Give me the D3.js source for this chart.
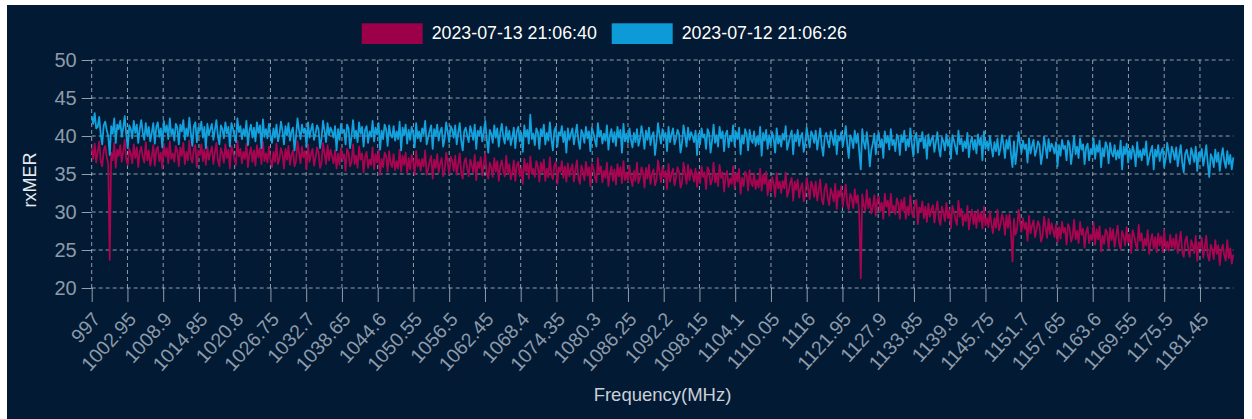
<!DOCTYPE html>
<html>
<head>
<meta charset="utf-8">
<script src="https://cdn.jsdelivr.net/npm/d3@7"></script>
<style>
  html, body { margin: 0; padding: 0; background: #ffffff; }
  svg { display: block; font-family: Arial, "Liberation Sans", sans-serif; }
</style>
</head>
<body>
<svg id="chart" width="1252" height="419"></svg>
<script>
// Subcarrier frequencies: first value and spacing (MHz)
const freqStart = 997;
const freqStep = 0.25;

// rxMER (dB) per subcarrier, capture of 2023-07-13 21:06:40
const rxmer0713 = [
  38.4, 37.0, 39.0, 36.5, 37.9, 39.3, 36.7, 36.0, 38.1, 38.7,
  37.3, 36.3, 23.7, 37.8, 36.8, 39.1, 35.8, 38.2, 37.4, 38.8,
  36.6, 38.0, 39.5, 36.9, 36.2, 38.3, 37.7, 36.4, 38.9, 37.1,
  38.5, 35.9, 37.9, 38.6, 37.2, 36.5, 39.2, 36.8, 38.1, 36.1,
  37.2, 38.8, 36.1, 38.2, 38.6, 36.7, 37.8, 35.7, 39.0, 37.3,
  38.4, 36.4, 39.3, 37.0, 37.7, 36.6, 38.7, 38.0, 36.0, 38.5,
  37.4, 39.1, 36.3, 37.9, 36.8, 39.4, 37.1, 36.5, 38.3, 38.8,
  35.9, 38.1, 37.5, 38.9, 36.7, 38.2, 36.2, 38.6, 36.9, 37.8,
  38.6, 36.3, 37.8, 39.1, 36.8, 36.0, 38.4, 37.7, 36.5, 38.9,
  37.1, 38.2, 35.7, 38.7, 38.0, 36.9, 36.2, 39.4, 37.3, 38.3,
  36.4, 37.9, 37.0, 39.0, 35.9, 37.6, 38.5, 36.6, 38.1, 36.1,
  38.8, 37.2, 38.4, 36.3, 39.2, 36.7, 37.7, 36.5, 38.6, 36.9,
  35.9, 37.9, 36.6, 39.0, 36.3, 37.0, 38.4, 37.7, 35.7, 38.3,
  36.9, 38.7, 36.2, 37.5, 38.1, 36.0, 36.7, 39.3, 37.8, 36.4,
  38.6, 37.2, 38.0, 35.6, 38.9, 36.6, 37.6, 38.3, 36.1, 37.1,
  38.5, 37.9, 35.8, 36.5, 39.1, 37.7, 36.3, 38.8, 36.8, 38.2,
  37.3, 36.4, 38.1, 35.7, 37.7, 36.2, 38.4, 37.0, 37.6, 35.4,
  38.3, 37.8, 36.0, 36.6, 38.9, 36.3, 37.4, 35.8, 38.6, 36.9,
  37.7, 35.2, 37.2, 37.9, 35.8, 36.9, 36.2, 38.5, 35.6, 37.6,
  36.5, 38.2, 34.9, 37.0, 35.9, 37.8, 37.4, 35.3, 38.0, 36.4,
  35.9, 37.6, 35.5, 36.7, 35.7, 38.2, 35.3, 37.4, 36.2, 37.8,
  35.1, 37.1, 35.6, 37.5, 36.6, 34.9, 38.0, 36.0, 36.9, 35.4,
  37.0, 36.0, 38.1, 34.9, 35.6, 36.7, 37.4, 34.4, 36.9, 35.8,
  37.6, 35.2, 36.4, 37.1, 34.7, 35.5, 37.8, 36.5, 35.0, 37.3,
  36.8, 35.4, 37.4, 34.9, 36.3, 37.7, 35.1, 34.4, 36.5, 37.1,
  35.7, 34.7, 36.9, 36.2, 35.2, 37.5, 34.2, 36.6, 35.8, 37.2,
  34.8, 36.2, 37.7, 35.1, 34.4, 36.5, 35.9, 34.6, 37.1, 35.3,
  36.7, 34.1, 36.1, 36.8, 35.4, 34.7, 37.4, 35.0, 36.3, 34.3,
  35.2, 36.8, 34.1, 36.2, 36.6, 34.7, 35.8, 33.7, 37.0, 35.3,
  36.4, 34.4, 37.3, 35.0, 35.7, 34.6, 36.7, 36.0, 34.0, 36.5,
  35.2, 36.9, 34.1, 35.7, 34.6, 37.2, 34.9, 34.3, 36.1, 36.6,
  33.7, 35.9, 35.3, 36.7, 34.5, 36.0, 34.0, 36.4, 34.7, 35.6,
  36.3, 34.0, 35.5, 36.8, 34.5, 33.7, 36.1, 35.4, 34.2, 36.6,
  34.8, 35.9, 33.4, 36.4, 35.7, 34.6, 33.9, 37.1, 35.0, 36.0,
  33.9, 35.4, 34.5, 36.5, 33.4, 35.1, 36.0, 34.1, 35.6, 33.6,
  36.3, 34.7, 35.9, 33.8, 36.7, 34.2, 35.2, 34.0, 36.1, 34.4,
  33.4, 35.4, 34.1, 36.5, 33.8, 34.5, 35.9, 35.2, 33.2, 35.8,
  34.4, 36.2, 33.7, 35.0, 35.6, 33.5, 34.2, 36.8, 35.3, 33.9,
  36.0, 34.6, 35.4, 33.0, 36.3, 34.0, 35.0, 35.7, 33.5, 34.5,
  35.9, 35.3, 33.2, 33.9, 36.5, 35.1, 33.7, 36.2, 34.2, 35.6,
  34.9, 34.0, 35.7, 33.3, 35.3, 33.8, 36.0, 34.6, 35.2, 33.0,
  35.9, 35.4, 33.6, 34.2, 36.5, 33.9, 35.0, 33.4, 36.2, 34.5,
  35.2, 32.7, 34.7, 35.4, 33.3, 34.4, 33.7, 36.0, 33.1, 35.1,
  34.0, 35.7, 32.4, 34.5, 33.4, 35.3, 34.9, 32.8, 35.5, 33.9,
  33.4, 35.1, 33.0, 34.2, 33.2, 35.7, 32.8, 34.9, 33.7, 35.3,
  32.2, 34.2, 32.7, 34.6, 33.7, 32.0, 35.1, 33.1, 34.0, 32.5,
  34.1, 33.1, 35.2, 32.0, 32.7, 33.8, 34.5, 31.5, 34.0, 32.9,
  34.3, 31.9, 33.1, 33.8, 31.4, 32.2, 34.5, 33.2, 31.7, 34.0,
  33.4, 32.0, 34.0, 31.5, 32.9, 34.3, 31.7, 31.0, 33.1, 33.7,
  31.9, 30.9, 33.1, 32.4, 31.4, 33.7, 30.4, 32.8, 32.0, 33.4,
  30.7, 32.1, 33.6, 31.0, 30.3, 32.4, 31.8, 30.5, 33.0, 31.2,
  32.2, 29.6, 21.3, 32.3, 30.9, 30.2, 32.9, 30.5, 31.8, 29.8,
  30.6, 32.2, 29.5, 31.6, 32.0, 30.1, 31.2, 29.1, 32.4, 30.7,
  31.5, 29.5, 32.4, 30.1, 30.8, 29.7, 31.8, 31.1, 29.1, 31.6,
  30.2, 31.9, 29.1, 30.7, 29.6, 32.2, 29.9, 29.3, 31.1, 31.6,
  28.4, 30.6, 30.0, 31.4, 29.2, 30.7, 28.7, 31.1, 29.4, 30.3,
  30.9, 28.6, 30.1, 31.4, 29.1, 28.3, 30.7, 30.0, 28.8, 31.2,
  29.2, 30.3, 27.8, 30.8, 30.1, 29.0, 28.3, 31.5, 29.4, 30.4,
  28.2, 29.7, 28.8, 30.8, 27.7, 29.4, 30.3, 28.4, 29.9, 27.9,
  30.3, 28.7, 29.9, 27.8, 30.7, 28.2, 29.2, 28.0, 30.1, 28.4,
  27.2, 29.2, 27.9, 30.3, 27.6, 28.3, 29.7, 29.0, 27.0, 29.6,
  27.9, 29.7, 27.2, 23.5, 29.1, 27.0, 27.7, 30.3, 28.8, 27.4,
  29.2, 27.8, 28.6, 26.2, 29.5, 27.2, 28.2, 28.9, 26.7, 27.7,
  28.8, 28.2, 26.1, 26.8, 29.4, 28.0, 26.6, 29.1, 27.1, 28.5,
  27.6, 26.7, 28.4, 26.0, 28.0, 26.5, 28.7, 27.3, 27.9, 25.7,
  28.4, 27.9, 26.1, 26.7, 29.0, 26.4, 27.5, 25.9, 28.7, 27.0,
  27.8, 25.3, 27.3, 28.0, 25.9, 27.0, 26.3, 28.6, 25.7, 27.7,
  26.4, 28.1, 24.8, 26.9, 25.8, 27.7, 27.3, 25.2, 27.9, 26.3,
  27.7, 25.4, 26.9, 28.2, 25.9, 25.1, 27.5, 26.8, 25.6, 28.0,
  26.0, 27.1, 24.6, 27.6, 26.9, 25.8, 25.1, 28.3, 26.2, 27.2,
  25.0, 26.5, 25.6, 27.6, 24.5, 26.2, 27.1, 25.2, 26.7, 24.7,
  27.2, 25.6, 26.8, 24.7, 27.6, 25.1, 26.1, 24.9, 27.0, 25.3,
  26.5, 25.1, 27.1, 24.6, 26.0, 27.4, 24.8, 24.1, 26.2, 26.8,
  25.1, 24.1, 26.3, 25.6, 24.6, 26.9, 23.6, 26.0, 25.2, 26.6,
  24.0, 25.4, 26.9, 24.3, 23.6, 25.7, 25.1, 23.8, 26.3, 24.5,
  25.6, 23.0, 25.0, 25.7, 24.3, 23.6, 26.3, 23.9, 25.2, 23.2,
  24.4
];

// rxMER (dB) per subcarrier, capture of 2023-07-12 21:06:26
const rxmer0712 = [
  42.6, 41.6, 43.0, 41.0, 41.2, 42.5, 40.2, 38.9, 41.4, 41.9,
  40.8, 40.0, 37.5, 41.3, 40.3, 42.3, 39.1, 41.5, 40.9, 42.0,
  39.9, 41.1, 42.6, 40.2, 38.4, 41.4, 40.9, 39.7, 42.0, 40.4,
  41.5, 39.1, 40.9, 42.1, 40.4, 39.5, 41.7, 40.0, 41.2, 39.3,
  40.4, 41.7, 39.0, 41.2, 41.8, 39.9, 41.0, 38.5, 42.0, 40.5,
  41.4, 39.6, 42.3, 40.2, 40.9, 39.4, 41.6, 41.1, 38.9, 41.5,
  40.6, 42.1, 39.5, 41.0, 40.0, 42.4, 40.3, 38.7, 41.3, 41.8,
  39.2, 41.1, 40.7, 41.9, 39.8, 41.2, 38.4, 41.6, 40.1, 40.9,
  41.6, 39.5, 40.8, 42.1, 40.0, 38.9, 41.4, 40.9, 39.7, 41.8,
  40.3, 41.2, 38.6, 41.7, 41.0, 40.1, 39.2, 42.3, 40.5, 41.3,
  39.6, 40.9, 40.0, 42.0, 38.8, 40.7, 41.5, 39.8, 41.1, 39.3,
  41.8, 40.4, 41.4, 38.4, 42.2, 39.9, 40.9, 39.7, 41.6, 40.1,
  39.1, 41.0, 39.8, 41.5, 39.3, 40.2, 41.9, 40.7, 38.9, 41.3,
  40.1, 41.7, 39.4, 40.6, 41.1, 38.1, 39.9, 42.3, 40.8, 39.6,
  41.5, 40.4, 41.0, 38.6, 41.8, 39.8, 40.8, 41.6, 39.5, 40.3,
  41.4, 40.9, 38.4, 39.7, 42.0, 40.7, 39.2, 41.7, 40.1, 41.1,
  40.6, 39.8, 41.3, 38.1, 40.9, 39.5, 41.6, 40.4, 40.8, 38.9,
  41.5, 41.0, 38.4, 40.0, 42.1, 39.7, 40.7, 39.2, 41.8, 40.3,
  41.2, 38.6, 40.8, 41.3, 39.1, 40.6, 39.9, 42.0, 39.3, 41.1,
  40.2, 41.7, 38.2, 40.7, 39.6, 41.5, 40.9, 38.7, 41.4, 40.1,
  39.8, 41.3, 39.4, 40.6, 39.6, 41.9, 38.1, 41.1, 40.1, 41.5,
  39.0, 40.8, 39.5, 41.2, 40.4, 38.5, 41.7, 39.7, 40.6, 39.3,
  41.0, 40.2, 42.0, 38.9, 39.8, 40.7, 41.4, 38.3, 40.9, 40.0,
  41.5, 39.4, 40.6, 41.1, 38.6, 39.7, 41.8, 40.5, 39.2, 41.3,
  40.8, 39.8, 41.4, 38.9, 40.4, 41.7, 39.4, 38.1, 40.6, 41.1,
  40.0, 39.2, 41.3, 40.5, 39.5, 41.5, 38.3, 40.7, 40.1, 41.2,
  39.3, 40.5, 42.0, 39.6, 37.8, 40.8, 40.3, 39.1, 41.4, 39.8,
  41.0, 38.6, 40.4, 41.6, 39.9, 39.0, 41.2, 39.5, 40.7, 38.8,
  39.8, 41.1, 38.4, 40.6, 41.2, 39.3, 40.4, 37.9, 41.4, 39.9,
  40.8, 39.0, 42.8, 39.6, 40.3, 38.8, 41.0, 40.5, 38.3, 40.9,
  40.0, 41.5, 38.9, 40.4, 39.4, 41.8, 39.7, 38.1, 40.7, 41.2,
  38.6, 40.5, 40.1, 41.3, 39.2, 40.6, 37.8, 41.0, 39.5, 40.3,
  41.0, 38.9, 40.2, 41.5, 39.4, 38.3, 40.8, 40.3, 39.1, 41.2,
  39.7, 40.6, 38.0, 41.1, 40.4, 39.5, 38.6, 41.7, 39.9, 40.7,
  39.0, 40.3, 39.4, 41.4, 38.2, 40.1, 40.9, 39.2, 40.5, 38.7,
  41.2, 39.8, 40.8, 37.8, 41.6, 39.3, 40.3, 39.1, 41.0, 39.5,
  38.5, 40.4, 39.2, 40.9, 38.7, 39.6, 41.3, 40.1, 38.3, 40.7,
  39.5, 41.1, 38.8, 40.0, 40.5, 37.5, 39.3, 41.7, 40.2, 39.0,
  40.9, 39.8, 40.4, 38.0, 41.2, 39.2, 40.2, 41.0, 38.9, 39.7,
  40.8, 40.3, 37.8, 39.1, 41.4, 40.1, 38.6, 41.1, 39.5, 40.5,
  40.0, 39.2, 40.7, 37.5, 40.3, 38.9, 41.0, 39.8, 40.2, 38.3,
  40.9, 40.4, 37.8, 39.4, 41.5, 39.1, 40.1, 38.6, 41.2, 39.7,
  40.6, 38.0, 40.2, 40.7, 38.5, 40.0, 39.3, 41.4, 38.7, 40.5,
  39.6, 41.1, 37.6, 40.1, 39.0, 40.9, 40.3, 38.1, 40.8, 39.5,
  39.1, 40.6, 38.7, 39.9, 38.9, 41.2, 37.4, 40.4, 39.4, 40.8,
  38.3, 40.1, 38.8, 40.5, 39.7, 37.8, 41.0, 39.0, 39.9, 38.6,
  40.3, 39.5, 41.3, 38.2, 39.1, 40.0, 40.7, 37.6, 40.2, 39.3,
  40.8, 38.7, 39.9, 40.4, 37.9, 39.0, 41.1, 39.8, 38.5, 40.6,
  40.1, 39.1, 40.7, 38.2, 39.7, 41.0, 38.7, 37.4, 39.9, 40.4,
  39.3, 38.5, 40.6, 39.8, 38.8, 40.8, 37.6, 40.0, 39.4, 40.5,
  38.6, 39.8, 41.3, 38.9, 37.1, 40.1, 39.6, 38.4, 40.7, 39.1,
  40.3, 37.9, 35.6, 40.9, 39.2, 38.3, 40.5, 38.8, 36.0, 38.1,
  39.0, 40.3, 37.6, 39.8, 40.4, 38.5, 39.6, 37.1, 40.6, 39.1,
  40.0, 38.2, 40.9, 38.8, 39.5, 38.0, 40.2, 39.7, 37.5, 40.1,
  39.2, 40.7, 38.1, 39.6, 38.6, 41.0, 38.9, 37.3, 39.9, 40.4,
  37.8, 39.7, 39.3, 40.5, 38.4, 39.8, 37.0, 40.2, 38.7, 39.5,
  40.0, 37.9, 39.2, 40.5, 38.4, 37.3, 39.8, 39.3, 38.1, 40.2,
  38.7, 39.6, 37.0, 40.1, 39.4, 38.5, 37.6, 40.7, 38.9, 39.7,
  38.0, 39.3, 38.4, 40.4, 37.2, 39.1, 39.9, 38.2, 39.5, 37.7,
  40.2, 38.8, 39.8, 36.8, 40.6, 38.3, 39.3, 38.1, 40.0, 38.5,
  37.3, 39.2, 38.0, 39.7, 37.5, 38.4, 40.1, 38.9, 37.1, 39.5,
  38.3, 39.9, 37.6, 35.9, 39.3, 36.3, 38.1, 40.5, 39.0, 37.8,
  39.4, 38.3, 38.9, 36.5, 39.7, 37.7, 38.7, 39.5, 37.4, 38.2,
  39.3, 38.8, 36.3, 37.6, 39.9, 38.6, 37.1, 39.6, 38.0, 39.0,
  38.5, 37.7, 39.2, 36.0, 38.8, 37.4, 39.5, 38.3, 38.7, 36.8,
  39.4, 38.9, 36.3, 37.9, 40.0, 37.6, 38.6, 37.1, 39.7, 38.2,
  38.9, 36.3, 38.5, 39.0, 36.8, 38.3, 37.6, 39.7, 37.0, 38.8,
  37.9, 39.4, 35.9, 38.4, 37.3, 39.2, 38.6, 36.4, 39.1, 37.8,
  37.3, 38.8, 36.9, 38.1, 37.1, 39.4, 35.6, 38.6, 37.6, 39.0,
  36.5, 38.3, 37.0, 38.7, 37.9, 36.0, 39.2, 37.2, 38.1, 36.8,
  38.3, 37.5, 39.3, 36.2, 37.1, 38.0, 38.7, 35.6, 38.2, 37.3,
  38.8, 36.7, 37.9, 38.4, 35.9, 37.0, 39.1, 37.8, 36.5, 38.6,
  37.9, 36.9, 38.5, 36.0, 37.5, 38.8, 36.5, 35.2, 37.7, 38.2,
  37.1, 36.3, 38.4, 37.6, 36.6, 38.6, 35.4, 37.8, 37.2, 38.3,
  36.1, 37.3, 38.8, 36.4, 34.6, 37.6, 37.1, 35.9, 38.2, 36.6,
  37.8, 35.4, 37.2, 38.4, 36.7, 35.8, 38.0, 36.3, 37.5, 35.6,
  37.2
];

// Axis tick labels
const xTickLabels = [997, 1002.95, 1008.9, 1014.85, 1020.8, 1026.75, 1032.7, 1038.65, 1044.6, 1050.55,
  1056.5, 1062.45, 1068.4, 1074.35, 1080.3, 1086.25, 1092.2, 1098.15, 1104.1, 1110.05, 1116, 1121.95,
  1127.9, 1133.85, 1139.8, 1145.75, 1151.7, 1157.65, 1163.6, 1169.55, 1175.5, 1181.45];
const yTickLabels = [20, 25, 30, 35, 40, 45, 50];

const seriesNames = ["2023-07-13 21:06:40", "2023-07-12 21:06:26"];
const seriesColors = ["#9c0049", "#0d9ad6"];
const lineColors = ["#a8044f", "#13a2de"];

const W = 1252, H = 419;
const plot = { left: 91.7, right: 1233.3, top: 60, bottom: 288 };

const svg = d3.select("#chart");

// Card background
svg.append("rect")
  .attr("x", 7).attr("y", 5)
  .attr("width", 1237).attr("height", H - 5)
  .attr("fill", "#021a33");

const freqEnd = freqStart + freqStep * (rxmer0713.length - 1);
const x = d3.scaleLinear().domain([freqStart, freqEnd]).range([plot.left, plot.right]);
const y = d3.scaleLinear().domain([20, 50]).range([plot.bottom, plot.top]);

const gridColor = "rgba(205,215,225,0.7)";
const tickTextColor = "#8d9bab";

// Horizontal grid + y axis
const yAxis = d3.axisLeft(y).tickValues(yTickLabels).tickSize(10).tickPadding(5);
const gy = svg.append("g").attr("transform", `translate(${plot.left},0)`).call(yAxis);
gy.select(".domain").remove();
gy.selectAll(".tick line").attr("stroke", gridColor).attr("stroke-width", 1);
gy.selectAll(".tick text").attr("fill", tickTextColor).style("font-size", "20px");

svg.append("g").selectAll("line")
  .data(yTickLabels).join("line")
  .attr("x1", plot.left).attr("x2", plot.right)
  .attr("y1", d => y(d)).attr("y2", d => y(d))
  .attr("stroke", gridColor).attr("stroke-width", 1)
  .attr("stroke-dasharray", "4,3");

// Vertical grid + x axis
svg.append("g").selectAll("line")
  .data(xTickLabels).join("line")
  .attr("x1", d => x(d)).attr("x2", d => x(d))
  .attr("y1", plot.top).attr("y2", plot.bottom)
  .attr("stroke", gridColor).attr("stroke-width", 1)
  .attr("stroke-dasharray", "4,3");

const xAxis = d3.axisBottom(x).tickValues(xTickLabels).tickSize(14).tickFormat(d => String(d));
const gx = svg.append("g").attr("transform", `translate(0,${plot.bottom})`).call(xAxis);
gx.select(".domain").remove();
gx.selectAll(".tick line").attr("stroke", gridColor).attr("stroke-width", 1);
gx.selectAll(".tick text")
  .attr("fill", tickTextColor)
  .style("font-size", "19.5px")
  .attr("text-anchor", "end")
  .attr("dy", null)
  .attr("y", null)
  .attr("dominant-baseline", "middle")
  .attr("transform", "translate(5.5,28.5) rotate(-48)");

// Series lines
const line = d3.line()
  .x((d, i) => x(freqStart + i * freqStep))
  .y(d => y(d));

const series = [rxmer0713, rxmer0712];
series.forEach((vals, k) => {
  svg.append("path")
    .datum(vals)
    .attr("fill", "none")
    .attr("stroke", lineColors[k])
    .attr("stroke-width", 1.8)
    .attr("stroke-linejoin", "round")
    .attr("d", line);
});

// Axis titles
svg.append("text")
  .attr("x", (plot.left + plot.right) / 2).attr("y", 396)
  .attr("text-anchor", "middle").attr("dominant-baseline", "middle")
  .attr("fill", "#c9d0d8").style("font-size", "18.5px")
  .text("Frequency(MHz)");

svg.append("text")
  .attr("transform", "translate(31,180) rotate(-90)")
  .attr("text-anchor", "middle").attr("dominant-baseline", "middle")
  .attr("fill", "#e6eaee").style("font-size", "18px")
  .text("rxMER");

// Legend
const legendItems = [
  { box: 361.7, text: 431.7 },
  { box: 611.7, text: 681.7 }
];
const lg = svg.append("g");
seriesNames.forEach((name, k) => {
  lg.append("rect")
    .attr("x", legendItems[k].box).attr("y", 23.3)
    .attr("width", 61).attr("height", 20.7)
    .attr("fill", seriesColors[k]);
  lg.append("text")
    .attr("x", legendItems[k].text).attr("y", 34)
    .attr("dominant-baseline", "middle")
    .attr("fill", "#ffffff").style("font-size", "17.8px")
    .text(name);
});
</script>
</body>
</html>
